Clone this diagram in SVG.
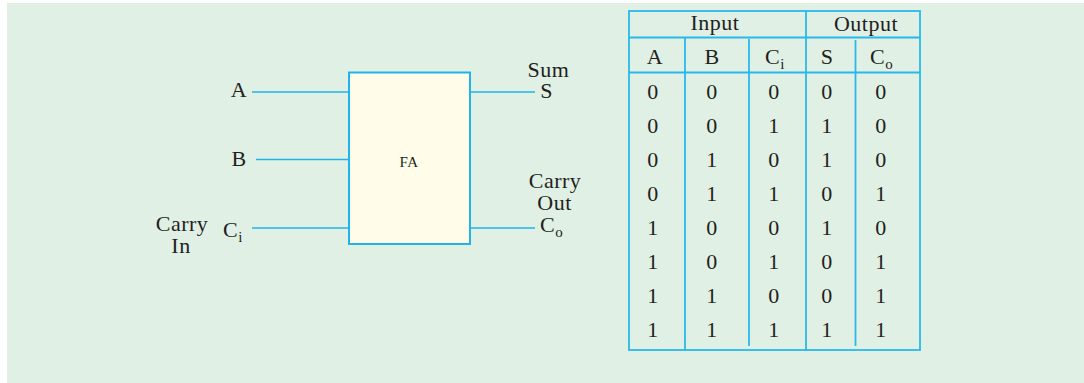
<svg xmlns="http://www.w3.org/2000/svg" width="1084" height="383" viewBox="0 0 1084 383">
<style>
  .t{font-family:"Liberation Serif","Times New Roman",serif;font-size:22px;fill:#231f20;letter-spacing:0.5px}
  .m{text-anchor:middle}
  .sub{font-size:15px}
  .w{stroke:#1fb5ea;stroke-width:1.6;fill:none}
  .g{stroke:#29b8ea;stroke-width:1.8;fill:none}
</style>
<rect x="0" y="0" width="1084" height="383" fill="#ffffff"/>
<rect x="7" y="3" width="1077" height="380" fill="#e1f0e5"/>

<g id="fa">
  <rect x="349" y="72.5" width="121" height="171.5" fill="#fffde9" stroke="#1fb5ea" stroke-width="2"/>
  <text class="t m" x="409" y="167" style="font-size:15px">FA</text>
</g>

<g id="connectors">
  <line class="w" x1="252" y1="92" x2="349" y2="92"/>
  <line class="w" x1="256" y1="159.5" x2="349" y2="159.5"/>
  <line class="w" x1="252" y1="228" x2="349" y2="228"/>
  <line class="w" x1="470" y1="92" x2="535" y2="92"/>
  <line class="w" x1="470" y1="228" x2="535" y2="228"/>
</g>

<g id="label-a"><text class="t m" x="239" y="97">A</text></g>
<g id="label-b"><text class="t m" x="239" y="166">B</text></g>
<g id="label-ci">
  <text class="t" x="223" y="237">C<tspan class="sub" dy="5">i</tspan></text>
  <text class="t m" x="182" y="231">Carry</text>
  <text class="t m" x="181" y="253">In</text>
</g>
<g id="label-s">
  <text class="t m" x="548.5" y="77">Sum</text>
  <text class="t m" x="546.5" y="98">S</text>
</g>
<g id="label-co">
  <text class="t m" x="555" y="188">Carry</text>
  <text class="t m" x="554.5" y="210">Out</text>
  <text class="t" x="540" y="232">C<tspan class="sub" dy="5">o</tspan></text>
</g>

<g id="truth-table">
  <rect class="g" x="629" y="11" width="291" height="339" stroke-width="2"/>
  <line class="g" x1="629" y1="37.5" x2="920" y2="37.5"/>
  <line class="g" x1="629" y1="72.5" x2="920" y2="72.5"/>
  <line class="g" x1="685" y1="37.5" x2="685" y2="350"/>
  <line class="g" x1="749" y1="39" x2="749" y2="346"/>
  <line class="g" x1="806" y1="11" x2="806" y2="351"/>
  <line class="g" x1="855.5" y1="40" x2="855.5" y2="346"/>

  <text class="t m" x="715" y="29.5">Input</text>
  <text class="t m" x="866" y="30.5">Output</text>

  <text class="t m" x="655" y="63.5">A</text>
  <text class="t m" x="712" y="63.5">B</text>
  <text class="t" x="765" y="63.5">C<tspan class="sub" dy="5">i</tspan></text>
  <text class="t m" x="827" y="63.5">S</text>
  <text class="t" x="870" y="63.5">C<tspan class="sub" dy="5">o</tspan></text>

  <g class="t m">
    <text x="653" y="99">0</text><text x="712" y="99">0</text><text x="774" y="99">0</text><text x="827" y="99">0</text><text x="881" y="99">0</text>
    <text x="653" y="133">0</text><text x="712" y="133">0</text><text x="774" y="133">1</text><text x="827" y="133">1</text><text x="881" y="133">0</text>
    <text x="653" y="167">0</text><text x="712" y="167">1</text><text x="774" y="167">0</text><text x="827" y="167">1</text><text x="881" y="167">0</text>
    <text x="653" y="201">0</text><text x="712" y="201">1</text><text x="774" y="201">1</text><text x="827" y="201">0</text><text x="881" y="201">1</text>
    <text x="653" y="235">1</text><text x="712" y="235">0</text><text x="774" y="235">0</text><text x="827" y="235">1</text><text x="881" y="235">0</text>
    <text x="653" y="269">1</text><text x="712" y="269">0</text><text x="774" y="269">1</text><text x="827" y="269">0</text><text x="881" y="269">1</text>
    <text x="653" y="303">1</text><text x="712" y="303">1</text><text x="774" y="303">0</text><text x="827" y="303">0</text><text x="881" y="303">1</text>
    <text x="653" y="337">1</text><text x="712" y="337">1</text><text x="774" y="337">1</text><text x="827" y="337">1</text><text x="881" y="337">1</text>
  </g>
</g>
</svg>
